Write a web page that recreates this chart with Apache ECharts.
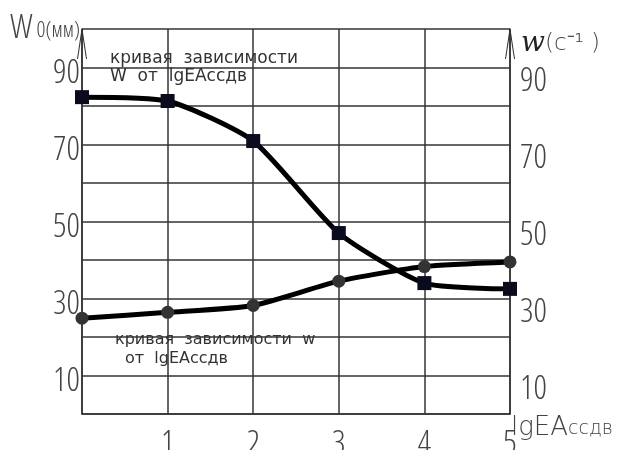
<!DOCTYPE html>
<html>
<head>
<meta charset="utf-8">
<script src="https://cdn.jsdelivr.net/npm/echarts@6/dist/echarts.min.js"></script>
<style>
    html, body { margin: 0; background: #fff; }
    #chart { width: 626px; height: 450px; }
</style>
</head>
<body>
<div id="chart"></div>
<script>
// values
var lgValues = [0, 1, 2, 3, 4, 5];
var bigW = [82.3, 81.3, 70.9, 47.0, 34.0, 32.5];     // W0, mm (squares)
var smallW = [24.9, 26.4, 28.2, 34.5, 38.3, 39.5];   // w, 1/s (circles)
var xTickLabels = ['', '1', '2', '3', '4', '5'];
var yTickLabels = [10, 30, 50, 70, 90];

// thin narrow face to imitate the CAD lettering
var numFont = "'Open Sans', sans-serif";
var numWeight = '300 condensed';
var noteFont = "'DejaVu Sans', sans-serif";
var gridColor = '#333';
var labelColor = '#444';

// open V arrow for the ends of the vertical axes
var arrowPath = 'path://M0,30 L4.5,0 L5.5,0 L10,30 L9,30 L5,4 L1,30 Z';

function pairs(ys) {
    return lgValues.map(function (x, i) { return [x, ys[i]]; });
}

function yLabel(v) {
    return yTickLabels.indexOf(v) >= 0 ? '{n|' + v + '}' : '';
}

function numStyle(drop) {
    return { fontFamily: numFont, fontWeight: numWeight, fontSize: 33, color: labelColor, padding: [drop, 0, 0, 0] };
}

var chart = echarts.init(document.getElementById('chart'));

chart.setOption({
    animation: false,
    backgroundColor: '#fff',
    grid: { left: 82, right: 116, top: 29, bottom: 36, containLabel: false, outerBoundsMode: 'none' },
    xAxis: {
        type: 'value', min: 0, max: 5, interval: 1,
        name: '{a|lgEA}{b|ссдв}',
        nameLocation: 'end', nameGap: 1, nameMoveOverlap: false,
        nameTextStyle: {
            align: 'left', verticalAlign: 'top', padding: [1, 0, 0, 0],
            rich: {
                a: { fontFamily: noteFont, fontWeight: 200, fontSize: 26, color: labelColor },
                b: { fontFamily: noteFont, fontWeight: 200, fontSize: 19, color: labelColor, verticalAlign: 'bottom', padding: [0, 0, 2, 0] }
            }
        },
        axisLine: { lineStyle: { color: gridColor, width: 1.5 } },
        axisTick: { show: false },
        splitLine: { lineStyle: { color: gridColor, width: 1.5 } },
        axisLabel: {
            margin: 14, fontFamily: numFont, fontWeight: numWeight, fontSize: 33, color: labelColor,
            formatter: function (v) { return xTickLabels[v] || ''; }
        }
    },
    yAxis: [
        {
            type: 'value', min: 0, max: 100, interval: 10,
            name: '{a|W}{b| 0(мм)}',
            nameLocation: 'end', nameGap: 0,
            nameTextStyle: {
                align: 'right', verticalAlign: 'middle', padding: [0, 2, 0, 0],
                rich: {
                    a: { fontFamily: numFont, fontWeight: numWeight, fontSize: 33, color: labelColor },
                    b: { fontFamily: numFont, fontWeight: numWeight, fontSize: 22, color: labelColor, padding: [4, 0, 0, 0] }
                }
            },
            axisLine: {
                show: true, lineStyle: { color: gridColor, width: 1.5 },
                symbol: ['none', arrowPath], symbolSize: [10, 30], symbolOffset: [0, -15]
            },
            axisTick: { show: false },
            splitLine: { lineStyle: { color: gridColor, width: 1.5 } },
            axisLabel: {
                margin: 2, formatter: yLabel,
                rich: { n: numStyle(12) }
            }
        },
        {
            type: 'value', min: 0, max: 100, interval: 10, position: 'right',
            name: '{w|w}(c⁻¹ )',
            nameLocation: 'end', nameGap: -1,
            nameTextStyle: {
                align: 'left', verticalAlign: 'top', padding: [0, 0, 0, 11],
                fontFamily: noteFont, fontWeight: 200, fontSize: 23, color: labelColor,
                rich: {
                    w: { fontFamily: "'DejaVu Serif', serif", fontStyle: 'italic', fontSize: 28, color: '#222' }
                }
            },
            axisLine: {
                show: true, lineStyle: { color: gridColor, width: 1.5 },
                symbol: ['none', arrowPath], symbolSize: [10, 30], symbolOffset: [0, -15]
            },
            axisTick: { show: false },
            splitLine: { show: false },
            axisLabel: {
                margin: 10, formatter: yLabel,
                rich: { n: numStyle(28) }
            }
        }
    ],
    graphic: [
        { type: 'text', left: 110, top: 50, style: { text: 'кривая  зависимости', font: '17px ' + noteFont, fill: '#333' } },
        { type: 'text', left: 110, top: 68, style: { text: 'W  от  lgEAссдв', font: '17px ' + noteFont, fill: '#333' } },
        { type: 'text', left: 115, top: 332, style: { text: 'кривая  зависимости  w', font: '16px ' + noteFont, fill: '#333' } },
        { type: 'text', left: 125, top: 351, style: { text: 'от  lgEAссдв', font: '16px ' + noteFont, fill: '#333' } }
    ],
    series: [
        {
            type: 'line', name: 'W0', yAxisIndex: 0, data: pairs(bigW),
            smooth: 0.2,
            symbol: 'rect', symbolSize: 14,
            itemStyle: { color: '#0b0b1e' },
            lineStyle: { color: '#000', width: 5 }
        },
        {
            type: 'line', name: 'w', yAxisIndex: 1, data: pairs(smallW),
            smooth: 0.2,
            symbol: 'circle', symbolSize: 13,
            itemStyle: { color: '#333' },
            lineStyle: { color: '#000', width: 5 }
        }
    ]
});
</script>
</body>
</html>
